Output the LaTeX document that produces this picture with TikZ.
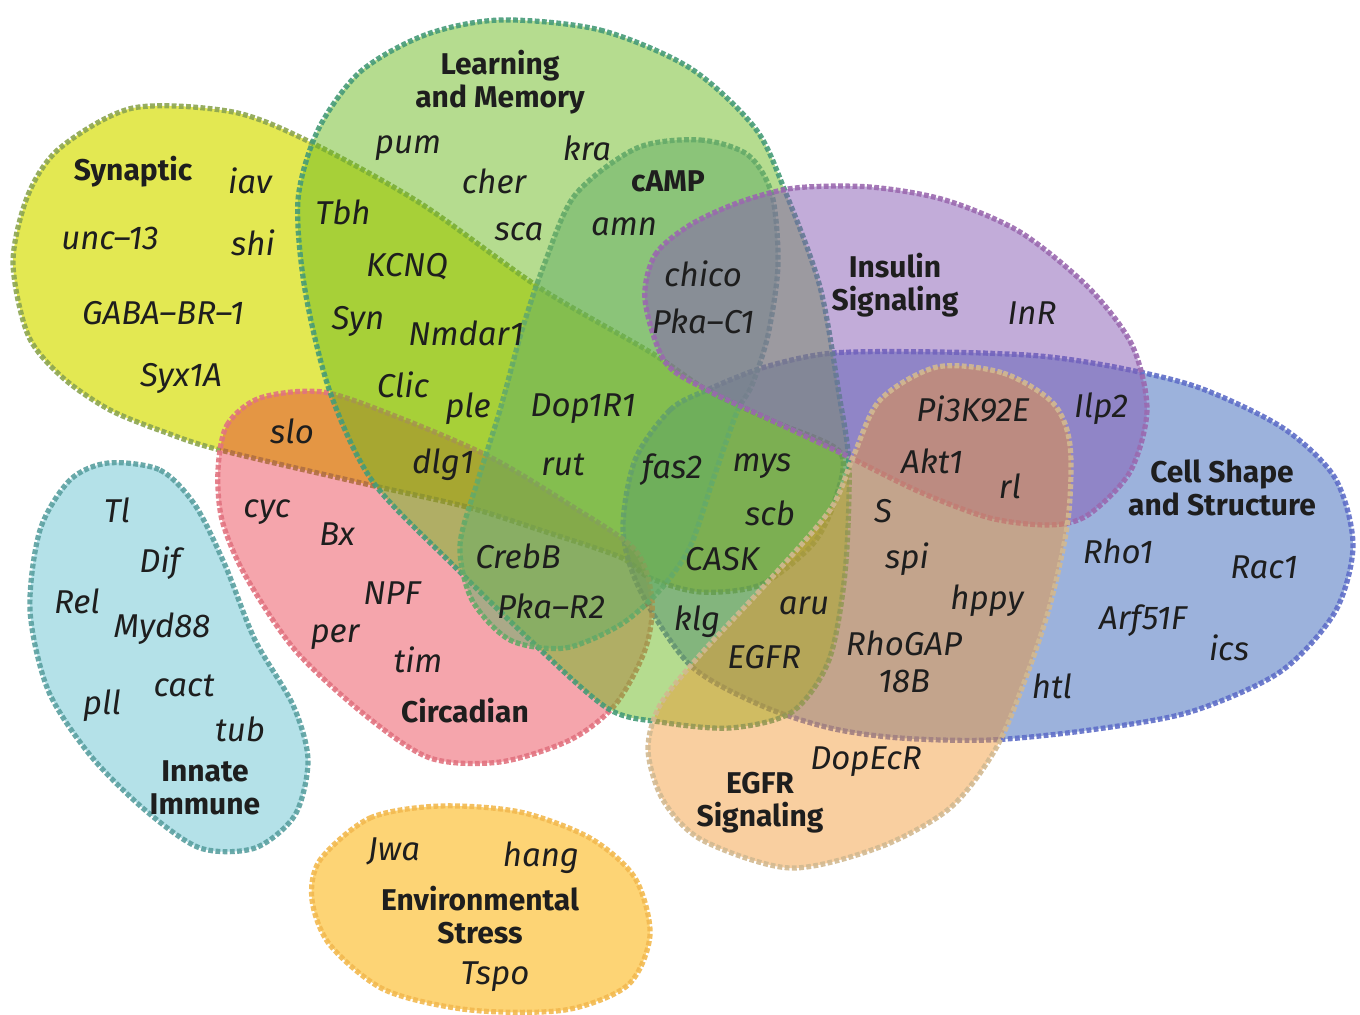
\documentclass[tikz,border=0pt]{standalone}
\usepackage{fontspec}
\setmainfont{Fira Sans}
\usepackage{xcolor}

\definecolor{synfill}{RGB}{218,224,24}
\definecolor{synline}{RGB}{140,165,80}
\definecolor{cellfill}{RGB}{57,101,185}
\definecolor{cellline}{RGB}{95,110,200}
\definecolor{circfill}{RGB}{230,30,48}
\definecolor{circline}{RGB}{225,115,128}
\definecolor{learnfill}{RGB}{107,185,31}
\definecolor{learnline}{RGB}{70,155,120}
\definecolor{campfill}{RGB}{99,174,101}
\definecolor{campline}{RGB}{100,170,105}
\definecolor{insfill}{RGB}{133,89,179}
\definecolor{insline}{RGB}{155,105,175}
\definecolor{egfrfill}{RGB}{242,148,44}
\definecolor{egfrline}{RGB}{210,185,145}
\definecolor{immfill}{RGB}{180,225,232}
\definecolor{immline}{RGB}{90,160,160}
\definecolor{envfill}{RGB}{253,212,117}
\definecolor{envline}{RGB}{242,185,80}
\definecolor{ink}{RGB}{30,30,30}

\begin{document}
\begin{tikzpicture}[
		x=0.5pt, y=-0.5pt,
		blob/.style={line width=2.6pt, dash pattern=on 2.4pt off 1.2pt, draw opacity=0.9},
		gene/.style={font=\fontsize{16.5}{18.5}\selectfont\itshape, text=ink, inner sep=0pt, align=center},
		group/.style={font=\fontsize{15}{16.5}\selectfont\bfseries, text=ink, inner sep=0pt, align=center}
		]
		
		\useasboundingbox (0,0) rectangle (1360,1015);
		
		% sets, lowest first
		\path[blob, fill=synfill, fill opacity=0.75, draw=synline] plot[smooth cycle] coordinates {
			(13,262) (28,195) (60,148) (133,108) (233,112) (310,142) (420,203) (540,288) (650,352)
			(707,390) (775,422) (840,452) (835,500) (812,545) (760,585) (700,592) (650,578) (620,557)
			(540,530) (467,507) (370,485) (220,450) (167,433) (110,410) (62,377) (28,335)};
		
		\path[blob, fill=cellfill, fill opacity=0.5, draw=cellline] plot[smooth cycle] coordinates {
			(707,390) (670,410) (635,460) (623,530) (640,590) (690,665) (760,705) (830,728) (900,738)
			(990,740) (1090,730) (1190,712) (1280,672) (1335,612) (1353,545) (1335,478) (1283,428)
			(1200,388) (1120,368) (1040,356) (940,352) (833,353) (765,367)};
		
		\path[blob, fill=circfill, fill opacity=0.4, draw=circline] plot[smooth cycle] coordinates {
			(218,470) (227,425) (260,398) (323,392) (400,418) (490,457) (570,505) (635,550) (652,600)
			(645,650) (615,705) (570,740) (500,762) (430,758) (365,715) (295,650) (245,575) (222,520)};
		
		\path[blob, fill=learnfill, fill opacity=0.5, draw=learnline] plot[smooth cycle] coordinates {
			(500,20) (600,30) (690,68) (755,128) (785,191) (820,287) (839,394) (849,466) (845,573)
			(829,660) (792,712) (730,728) (660,722) (607,708) (530,640) (455,567) (373,482) (330,392)
			(305,290) (298,200) (318,130) (360,72) (425,35)};
		
		\path[blob, fill=campfill, fill opacity=0.5, draw=campline] plot[smooth cycle] coordinates {
			(637,148) (700,140) (748,155) (772,195) (778,265) (768,335) (752,385) (737,412) (713,480)
			(690,547) (660,590) (620,625) (565,648) (510,640) (472,600) (460,545) (478,480) (500,410)
			(522,330) (544,265) (575,195)};
		
		\path[blob, fill=insfill, fill opacity=0.5, draw=insline] plot[smooth cycle] coordinates {
			(645,300) (655,255) (690,225) (740,202) (795,188) (870,187) (945,200) (1020,232) (1088,287)
			(1132,345) (1147,410) (1130,472) (1088,515) (1050,525) (990,518) (920,492) (845,455)
			(775,422) (707,390) (665,362)};
		
		\path[blob, fill=egfrfill, fill opacity=0.45, draw=egfrline] plot[smooth cycle] coordinates {
			(937,367) (1003,373) (1053,403) (1070,445) (1068,520) (1050,605) (1025,680) (995,750)
			(950,808) (880,847) (790,868) (702,840) (663,800) (648,750) (660,705) (700,655) (765,585)
			(830,510) (853,457) (880,400)};
		
		\path[blob, fill=immfill, draw=immline] plot[smooth cycle] coordinates {
			(108,463) (160,470) (195,505) (225,565) (255,640) (293,705) (308,760) (295,815) (255,848)
			(200,848) (145,810) (90,755) (48,690) (30,610) (40,530) (70,480)};
		
		\path[blob, fill=envfill, draw=envline] plot[smooth cycle] coordinates {
			(320,860) (370,818) (440,806) (520,812) (590,838) (635,878) (650,935) (628,985) (565,1010)
			(470,1010) (385,990) (330,945) (312,900)};
		
		% set names
		\node[group] (learn) at (500,82) {Learning\\and Memory};
		\node[group] (synaptic) at (133,172) {Synaptic};
		\node[group] (camp) at (668,181) {cAMP};
		\node[group] (insulin) at (895,285) {Insulin\\Signaling};
		\node[group] (cellshape) at (1222,488) {Cell Shape\\and Structure};
		\node[group] (circadian) at (465,711) {Circadian};
		\node[group] (innate) at (205,788) {Innate\\Immune};
		\node[group] (egfrsig) at (760,803) {EGFR\\Signaling};
		\node[group] (envstress) at (480,915) {Environmental\\Stress};
		
		% genes
		\node[gene] (pum) at (408,148) {pum};
		\node[gene] (cher) at (494,181) {cher};
		\node[gene] (kra) at (587,148) {kra};
		\node[gene] (sca) at (519,232) {sca};
		\node[gene] (amn) at (624,227) {amn};
		\node[gene] (iav) at (250,181) {iav};
		\node[gene] (shi) at (253,243) {shi};
		\node[gene] (unc13) at (110,239) {unc--13};
		\node[gene] (gababr) at (163,313) {GABA--BR--1};
		\node[gene] (syx1a) at (181,378) {Syx1A};
		\node[gene] (tbh) at (343,212) {Tbh};
		\node[gene] (kcnq) at (407,267) {KCNQ};
		\node[gene] (syn) at (358,321) {Syn};
		\node[gene] (nmdar1) at (466,333) {Nmdar1};
		\node[gene] (clic) at (403,385) {Clic};
		\node[gene] (ple) at (468,409) {ple};
		\node[gene] (dop1r1) at (583,409) {Dop1R1};
		\node[gene] (rut) at (563,465) {rut};
		\node[gene] (dlg1) at (443,465) {dlg1};
		\node[gene] (slo) at (292,431) {slo};
		\node[gene] (chico) at (703,274) {chico};
		\node[gene] (pkac1) at (703,321) {Pka--C1};
		\node[gene] (inr) at (1032,313) {InR};
		\node[gene] (pi3k) at (973,409) {Pi3K92E};
		\node[gene] (ilp2) at (1101,409) {Ilp2};
		\node[gene] (akt1) at (932,461) {Akt1};
		\node[gene] (rl) at (1010,486) {rl};
		\node[gene] (sgene) at (883,511) {S};
		\node[gene] (fas2) at (672,470) {fas2};
		\node[gene] (mys) at (762,466) {mys};
		\node[gene] (scb) at (770,513) {scb};
		\node[gene] (cask) at (722,559) {CASK};
		\node[gene] (crebb) at (518,556) {CrebB};
		\node[gene] (pkar2) at (551,606) {Pka--R2};
		\node[gene] (cyc) at (267,512) {cyc};
		\node[gene] (bx) at (337,534) {Bx};
		\node[gene] (npf) at (392,593) {NPF};
		\node[gene] (per) at (335,637) {per};
		\node[gene] (tim) at (418,660) {tim};
		\node[gene] (klg) at (697,622) {klg};
		\node[gene] (aru) at (804,606) {aru};
		\node[gene] (egfr) at (764,657) {EGFR};
		\node[gene] (spi) at (907,559) {spi};
		\node[gene] (hppy) at (987,601) {hppy};
		\node[gene] (rhogap) at (904,662) {RhoGAP\\18B};
		\node[gene] (rho1) at (1118,551) {Rho1};
		\node[gene] (rac1) at (1264,567) {Rac1};
		\node[gene] (arf51f) at (1143,621) {Arf51F};
		\node[gene] (ics) at (1229,648) {ics};
		\node[gene] (htl) at (1052,686) {htl};
		\node[gene] (tl) at (117,510) {Tl};
		\node[gene] (dif) at (160,563) {Dif};
		\node[gene] (rel) at (77,601) {Rel};
		\node[gene] (myd88) at (162,629) {Myd88};
		\node[gene] (cact) at (184,686) {cact};
		\node[gene] (pll) at (102,706) {pll};
		\node[gene] (tub) at (240,729) {tub};
		\node[gene] (dopecr) at (866,762) {DopEcR};
		\node[gene] (jwa) at (394,851) {Jwa};
		\node[gene] (hang) at (541,858) {hang};
		\node[gene] (tspo) at (495,977) {Tspo};
		
	\end{tikzpicture}
\end{document}
